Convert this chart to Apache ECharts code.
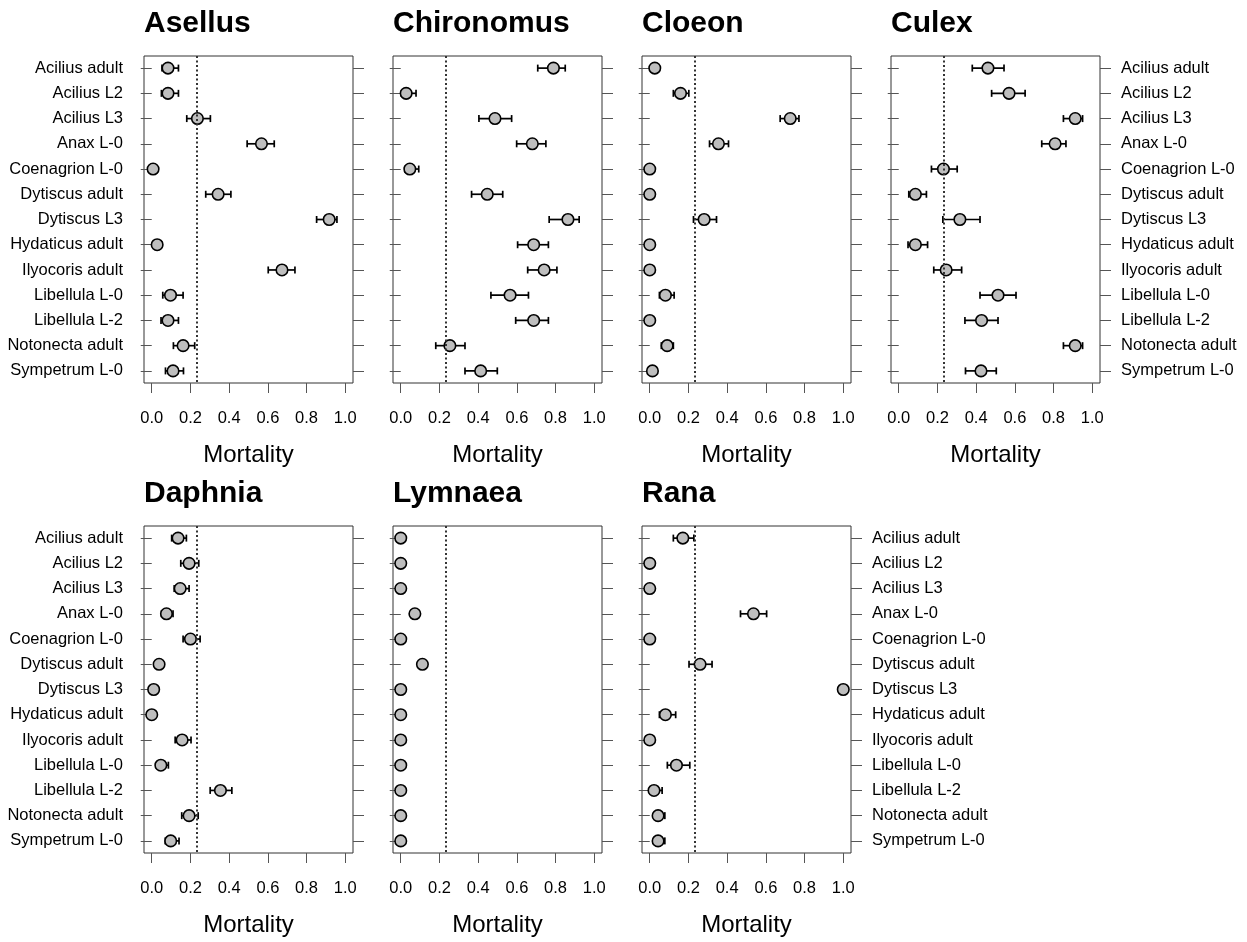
<!DOCTYPE html>
<html>
<head>
<meta charset="utf-8">
<script src="https://cdn.jsdelivr.net/npm/echarts@6/dist/echarts.min.js"></script>
<style>
  html, body { margin: 0; padding: 0; background: #fff; }
  #main { width: 1247px; height: 942px; }
</style>
</head>
<body>
<div id="main"></div>
<script>
// predators (rows, top to bottom)
var predators = ['Acilius adult', 'Acilius L2', 'Acilius L3', 'Anax L-0', 'Coenagrion L-0',
  'Dytiscus adult', 'Dytiscus L3', 'Hydaticus adult', 'Ilyocoris adult', 'Libellula L-0',
  'Libellula L-2', 'Notonecta adult', 'Sympetrum L-0'];
var xTicks = [0, 0.2, 0.4, 0.6, 0.8, 1.0];
var refLine = 0.228;

// mortality per prey, with lower / upper error bounds
var aselMean = [0.084, 0.084, 0.236, 0.567, 0.007, 0.343, 0.917, 0.028, 0.673, 0.097, 0.084, 0.162, 0.110];
var aselLo   = [0.053, 0.050, 0.181, 0.493, 0.000, 0.279, 0.852, 0.010, 0.602, 0.057, 0.048, 0.112, 0.071];
var aselHi   = [0.138, 0.138, 0.303, 0.633, 0.020, 0.409, 0.957, 0.052, 0.740, 0.162, 0.138, 0.222, 0.164];

var chirMean = [0.789, 0.028, 0.487, 0.680, 0.047, 0.447, 0.864, 0.687, 0.741, 0.565, 0.687, 0.254, 0.413];
var chirLo   = [0.708, 0.003, 0.404, 0.599, 0.021, 0.366, 0.767, 0.604, 0.656, 0.466, 0.594, 0.181, 0.332];
var chirHi   = [0.850, 0.079, 0.573, 0.750, 0.093, 0.527, 0.922, 0.763, 0.807, 0.660, 0.763, 0.332, 0.499];

var cloeMean = [0.026, 0.159, 0.726, 0.355, 0, 0, 0.281, 0, 0, 0.081, 0, 0.090, 0.014];
var cloeLo   = [0.010, 0.122, 0.674, 0.309, 0, 0, 0.226, 0, 0, 0.050, 0, 0.060, 0.005];
var cloeHi   = [0.045, 0.202, 0.771, 0.407, 0, 0, 0.345, 0, 0, 0.126, 0, 0.122, 0.030];

var culeMean = [0.461, 0.570, 0.912, 0.808, 0.231, 0.086, 0.316, 0.086, 0.245, 0.513, 0.428, 0.912, 0.425];
var culeLo   = [0.380, 0.480, 0.851, 0.739, 0.169, 0.052, 0.228, 0.048, 0.181, 0.420, 0.342, 0.851, 0.345];
var culeHi   = [0.544, 0.653, 0.950, 0.864, 0.302, 0.143, 0.420, 0.149, 0.325, 0.606, 0.513, 0.950, 0.504];

var daphMean = [0.136, 0.193, 0.147, 0.076, 0.200, 0.038, 0.010, 0, 0.157, 0.047, 0.355, 0.193, 0.098];
var daphLo   = [0.103, 0.150, 0.116, 0.050, 0.162, 0.020, 0.000, 0, 0.121, 0.025, 0.302, 0.155, 0.070];
var daphHi   = [0.179, 0.243, 0.193, 0.110, 0.250, 0.055, 0.020, 0, 0.203, 0.086, 0.414, 0.240, 0.141];

var lymnMean = [0, 0, 0, 0.073, 0, 0.112, 0, 0, 0, 0, 0, 0, 0];
var lymnLo   = [0, 0, 0, 0.073, 0, 0.112, 0, 0, 0, 0, 0, 0, 0];
var lymnHi   = [0, 0, 0, 0.073, 0, 0.112, 0, 0, 0, 0, 0, 0, 0];

var ranaMean = [0.171, 0, 0, 0.536, 0, 0.260, 1.0, 0.081, 0, 0.138, 0.022, 0.043, 0.043];
var ranaLo   = [0.122, 0, 0, 0.469, 0, 0.203, 1.0, 0.050, 0, 0.091, 0.005, 0.025, 0.025];
var ranaHi   = [0.228, 0, 0, 0.604, 0, 0.322, 1.0, 0.134, 0, 0.207, 0.064, 0.078, 0.078];

var panels = [
  { name: 'Asellus',    mean: aselMean, lo: aselLo, hi: aselHi, row: 0, col: 0, side: 'left' },
  { name: 'Chironomus', mean: chirMean, lo: chirLo, hi: chirHi, row: 0, col: 1, side: '' },
  { name: 'Cloeon',     mean: cloeMean, lo: cloeLo, hi: cloeHi, row: 0, col: 2, side: '' },
  { name: 'Culex',      mean: culeMean, lo: culeLo, hi: culeHi, row: 0, col: 3, side: 'right' },
  { name: 'Daphnia',    mean: daphMean, lo: daphLo, hi: daphHi, row: 1, col: 0, side: 'left' },
  { name: 'Lymnaea',    mean: lymnMean, lo: lymnLo, hi: lymnHi, row: 1, col: 1, side: '' },
  { name: 'Rana',       mean: ranaMean, lo: ranaLo, hi: ranaHi, row: 1, col: 2, side: 'right' }
];

var colLeft = [144, 393, 642, 891];
var rowTop = [56, 526];
var boxW = 209, boxH = 327;
var font = 'Liberation Sans, Arial, sans-serif';
var yPos = predators.map(function (p, i) { return i + 1; });

var grids = [], xAxes = [], yAxes = [], titles = [], series = [];

panels.forEach(function (p, i) {
  grids.push({
    left: colLeft[p.col], top: rowTop[p.row], width: boxW, height: boxH,
    show: true, borderColor: '#333', borderWidth: 1, backgroundColor: 'transparent'
  });
  titles.push({
    text: p.name, left: colLeft[p.col], top: rowTop[p.row] - 47, padding: 0,
    textStyle: { fontFamily: font, fontSize: 30, fontWeight: 'bold', color: '#000' }
  });
  xAxes.push({
    type: 'value', gridIndex: i, min: -0.04, max: 1.04, position: 'bottom',
    axisLine: { show: false },
    splitLine: { show: false },
    axisTick: { show: true, length: 10, customValues: xTicks, lineStyle: { color: '#555', width: 1 } },
    axisLabel: {
      customValues: xTicks, margin: 27, color: '#000', fontFamily: font, fontSize: 16.5,
      formatter: function (v) { return v.toFixed(1); }
    },
    name: 'Mortality', nameLocation: 'middle', nameGap: 60,
    nameTextStyle: { fontFamily: font, fontSize: 24, color: '#000' }
  });
  ['left', 'right'].forEach(function (pos) {
    yAxes.push({
      type: 'value', gridIndex: i, position: pos, inverse: true, min: 0.52, max: 13.48,
      axisLine: { show: false },
      splitLine: { show: false },
      axisTick: { show: true, length: 11, customValues: yPos, lineStyle: { color: '#555', width: 1 } },
      axisLabel: {
        show: p.side === pos, customValues: yPos, margin: 21, color: '#000',
        fontFamily: font, fontSize: 16.5,
        formatter: function (v) { return predators[Math.round(v) - 1]; }
      }
    });
  });

  // error bars
  series.push({
    type: 'custom', xAxisIndex: i, yAxisIndex: 2 * i, z: 2, silent: true,
    data: p.lo.map(function (l, k) { return [l, p.hi[k], k + 1]; }),
    encode: { x: [0, 1], y: 2 },
    renderItem: function (params, api) {
      var a = api.value(0), b = api.value(1), y = api.value(2);
      if (b - a <= 0) return null;
      var p1 = api.coord([a, y]), p2 = api.coord([b, y]);
      var st = { stroke: '#000', lineWidth: 1.7 };
      return {
        type: 'group',
        children: [
          { type: 'line', shape: { x1: p1[0], y1: p1[1], x2: p2[0], y2: p2[1] }, style: st },
          { type: 'line', shape: { x1: p1[0], y1: p1[1] - 3.5, x2: p1[0], y2: p1[1] + 3.5 }, style: st },
          { type: 'line', shape: { x1: p2[0], y1: p2[1] - 3.5, x2: p2[0], y2: p2[1] + 3.5 }, style: st }
        ]
      };
    }
  });

  // points + reference line
  series.push({
    type: 'scatter', xAxisIndex: i, yAxisIndex: 2 * i, z: 3,
    data: p.mean.map(function (m, k) { return [m, k + 1]; }),
    symbol: 'circle', symbolSize: 11.5,
    itemStyle: { color: '#bebebe', borderColor: '#000', borderWidth: 1.6, opacity: 1 },
    markLine: {
      silent: true, symbol: 'none', label: { show: false },
      lineStyle: { color: '#333', width: 2, type: [2, 2.5] },
      data: [{ xAxis: refLine }]
    }
  });
});

var chart = echarts.init(document.getElementById('main'));
chart.setOption({
  animation: false,
  backgroundColor: '#fff',
  title: titles,
  grid: grids,
  xAxis: xAxes,
  yAxis: yAxes,
  series: series
});
</script>
</body>
</html>
